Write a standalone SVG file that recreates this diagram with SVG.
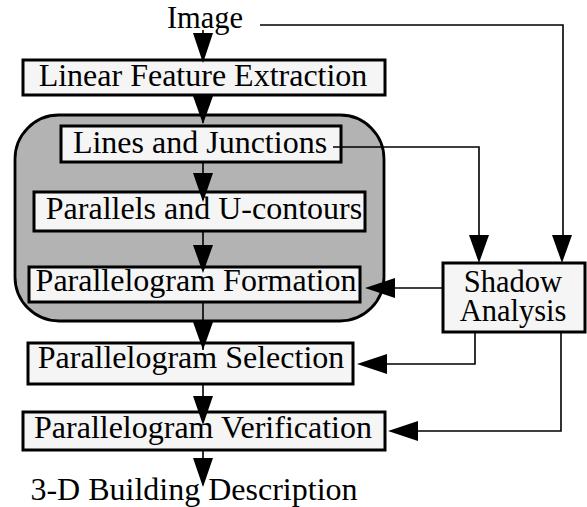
<svg xmlns="http://www.w3.org/2000/svg" width="587" height="507" viewBox="0 0 587 507">
<style>
.box{fill:#f5f5f5;stroke:#000;stroke-width:3}
.grp{fill:#b3b3b3;stroke:#000;stroke-width:2.8}
text{font-family:"Liberation Serif","Times New Roman",serif;font-size:32px;fill:#000;text-anchor:middle}
.sm{font-size:30.5px}
.ln{fill:none;stroke:#000;stroke-width:1.6}
.ah{fill:#000}
</style>
<rect width="587" height="507" fill="#fff"/>
<g id="group-box"><rect class="grp" x="15" y="115" width="369" height="206" rx="44" ry="44"/></g>
<g id="image"><text class="sm" x="205" y="28">Image</text></g>
<g id="linear"><rect class="box" x="23" y="60" width="362" height="35"/><text x="203" y="86">Linear Feature Extraction</text></g>
<g id="lines"><rect class="box" x="61" y="126" width="280" height="36"/><text x="200" y="153">Lines and Junctions</text></g>
<g id="parallels"><rect class="box" x="34" y="192" width="331" height="39"/><text x="204" y="219">Parallels and U-contours</text></g>
<g id="formation"><rect class="box" x="29" y="267" width="331" height="35"/><text x="196" y="291">Parallelogram Formation</text></g>
<g id="selection"><rect class="box" x="28" y="343" width="325" height="41"/><text x="191" y="368">Parallelogram Selection</text></g>
<g id="verification"><rect class="box" x="23" y="412" width="362" height="38"/><text x="203" y="438">Parallelogram Verification</text></g>
<g id="building"><text x="194" y="500">3-D Building Description</text></g>
<g id="shadow"><rect class="box" x="443" y="263" width="142" height="69"/><text class="sm" x="513" y="292">Shadow</text><text class="sm" x="513" y="321">Analysis</text></g>
<g id="connectors">
<path class="ln" d="M203 30V60M203 95V123M203 162V200M203 231V270M203 302V350M203 384V422M203 450V485"/>
<path class="ah" d="M193 33H213L203 63Z"/>
<path class="ah" d="M193 96H213L203 124Z"/>
<path class="ah" d="M193 173H213L203 202Z"/>
<path class="ah" d="M193 245H213L203 273Z"/>
<path class="ah" d="M193 322H213L203 350Z"/>
<path class="ah" d="M193 396H213L203 425Z"/>
<path class="ah" d="M193 458H213L203 487Z"/>
<path class="ln" d="M260 25H563V240"/>
<path class="ln" d="M333 147H479V240"/>
<path class="ah" d="M469 235H489L479 263Z"/>
<path class="ah" d="M552 235H572L562 263Z"/>
<path class="ln" d="M443 288H390"/>
<path class="ah" d="M395 278V298L365 288Z"/>
<path class="ln" d="M475 332V364H385"/>
<path class="ah" d="M387 354V374L357 364Z"/>
<path class="ln" d="M561 332V431H415"/>
<path class="ah" d="M418 421V441L388 431Z"/>
</g>
</svg>
